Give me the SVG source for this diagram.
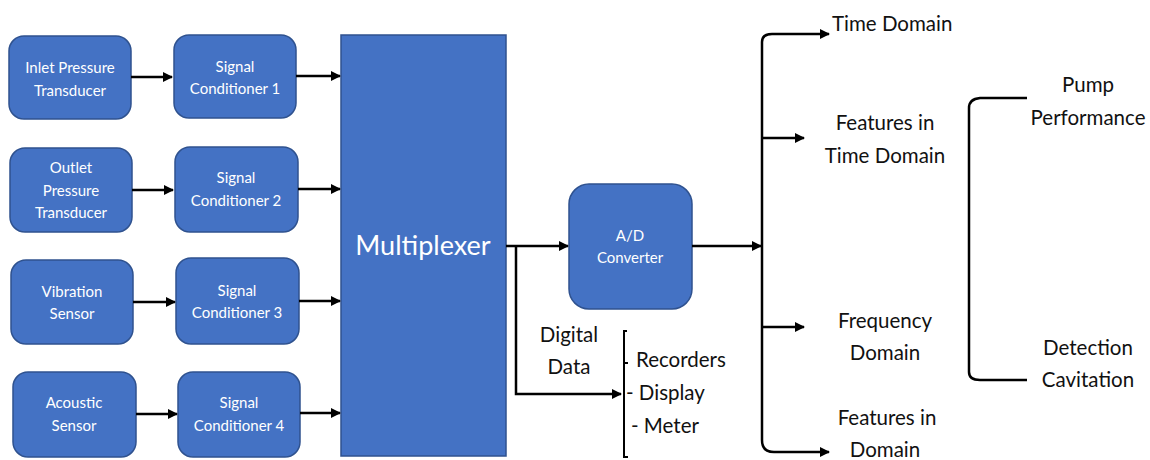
<svg xmlns="http://www.w3.org/2000/svg" width="1150" height="460" viewBox="0 0 1150 460">
<defs>
<style>
.box{fill:#4472C4;stroke:#2F528F;stroke-width:1.5}
.bt{font-family:Lato,"Open Sans",sans-serif;font-size:15px;fill:#fff;text-anchor:middle}
.lbl{font-family:Lato,"Open Sans",sans-serif;font-size:20.5px;fill:#111;text-anchor:middle}
.lbs{font-family:Lato,"Open Sans",sans-serif;font-size:20.5px;fill:#111}
.ln{fill:none;stroke:#000;stroke-width:2.5}
.br{fill:none;stroke:#000;stroke-width:2}
</style>
<marker id="ah" viewBox="0 0 10 10" refX="9" refY="5" markerWidth="4" markerHeight="4" orient="auto" markerUnits="strokeWidth">
<path d="M0,0 L10,5 L0,10 z" fill="#000"/>
</marker>
</defs>
<rect width="1150" height="460" fill="#fff"/>

<g id="inlet"><rect class="box" x="9" y="36" width="122" height="83" rx="15"/><text class="bt" x="70" y="73">Inlet Pressure</text><text class="bt" x="70" y="96">Transducer</text></g>
<g id="sc1"><rect class="box" x="174" y="35" width="122" height="83" rx="15"/><text class="bt" x="235" y="72">Signal</text><text class="bt" x="235" y="94">Conditioner 1</text></g>
<g id="outlet"><rect class="box" x="10" y="148" width="122" height="84" rx="15"/><text class="bt" x="71" y="173">Outlet</text><text class="bt" x="71" y="196">Pressure</text><text class="bt" x="71" y="218">Transducer</text></g>
<g id="sc2"><rect class="box" x="175" y="147" width="123" height="85" rx="15"/><text class="bt" x="236" y="183">Signal</text><text class="bt" x="236" y="206">Conditioner 2</text></g>
<g id="vibration"><rect class="box" x="11" y="260" width="122" height="84" rx="15"/><text class="bt" x="72" y="297">Vibration</text><text class="bt" x="72" y="319">Sensor</text></g>
<g id="sc3"><rect class="box" x="176" y="258" width="123" height="86" rx="15"/><text class="bt" x="237" y="296">Signal</text><text class="bt" x="237" y="318">Conditioner 3</text></g>
<g id="acoustic"><rect class="box" x="13" y="372" width="123" height="85" rx="15"/><text class="bt" x="74" y="408">Acoustic</text><text class="bt" x="74" y="431">Sensor</text></g>
<g id="sc4"><rect class="box" x="178" y="372" width="122" height="85" rx="15"/><text class="bt" x="239" y="408">Signal</text><text class="bt" x="239" y="431">Conditioner 4</text></g>
<g id="multiplexer"><rect class="box" x="341" y="35" width="165" height="421"/><text class="bt" x="423" y="255" style="font-size:27px">Multiplexer</text></g>
<g id="adc"><rect class="box" x="569" y="184" width="123" height="125" rx="20"/><text class="bt" x="630" y="241">A/D</text><text class="bt" x="630" y="263">Converter</text></g>

<g id="labels">
<text class="lbl" x="569" y="342">Digital</text>
<text class="lbl" x="569" y="374">Data</text>
<text class="lbs" x="636" y="367">Recorders</text>
<text class="lbs" x="626" y="400">- Display</text>
<text class="lbs" x="631" y="433">- Meter</text>
<text class="lbs" x="832" y="31">Time Domain</text>
<text class="lbl" x="885" y="130">Features in</text>
<text class="lbl" x="885" y="163">Time Domain</text>
<text class="lbl" x="885" y="328">Frequency</text>
<text class="lbl" x="885" y="360">Domain</text>
<text class="lbl" x="887" y="425">Features in</text>
<text class="lbl" x="885" y="457">Domain</text>
<text class="lbl" x="1088" y="92">Pump</text>
<text class="lbl" x="1088" y="125">Performance</text>
<text class="lbl" x="1088" y="355">Detection</text>
<text class="lbl" x="1088" y="387">Cavitation</text>
</g>

<g id="connectors">
<line class="ln" x1="131" y1="77" x2="172" y2="77" marker-end="url(#ah)"/>
<line class="ln" x1="296" y1="76" x2="340" y2="76" marker-end="url(#ah)"/>
<line class="ln" x1="132" y1="190" x2="173" y2="190" marker-end="url(#ah)"/>
<line class="ln" x1="298" y1="189" x2="340" y2="189" marker-end="url(#ah)"/>
<line class="ln" x1="133" y1="302" x2="175" y2="302" marker-end="url(#ah)"/>
<line class="ln" x1="299" y1="301" x2="340" y2="301" marker-end="url(#ah)"/>
<line class="ln" x1="136" y1="414" x2="177" y2="414" marker-end="url(#ah)"/>
<line class="ln" x1="300" y1="413" x2="340" y2="413" marker-end="url(#ah)"/>
<line class="ln" x1="506" y1="246" x2="568" y2="246" marker-end="url(#ah)"/>
<path class="ln" d="M516,246 V394 H621" marker-end="url(#ah)"/>
<path class="br" d="M627,331 H624 V457 H628 M624,363 H628"/>
<line class="ln" x1="692" y1="246" x2="761" y2="246" marker-end="url(#ah)"/>
<path class="ln" d="M762,440 V42 Q762,34 772,34 H829" marker-end="url(#ah)"/>
<path class="ln" d="M762,440 Q762,452 774,452 H829" marker-end="url(#ah)"/>
<line class="ln" x1="762" y1="138" x2="804" y2="138" marker-end="url(#ah)"/>
<line class="ln" x1="762" y1="327" x2="804" y2="327" marker-end="url(#ah)"/>
<path class="br" d="M1027,98 H980 Q969,99 969,108 V372 Q969,380 980,380 H1027" style="stroke-width:2.5"/>
</g>
</svg>
